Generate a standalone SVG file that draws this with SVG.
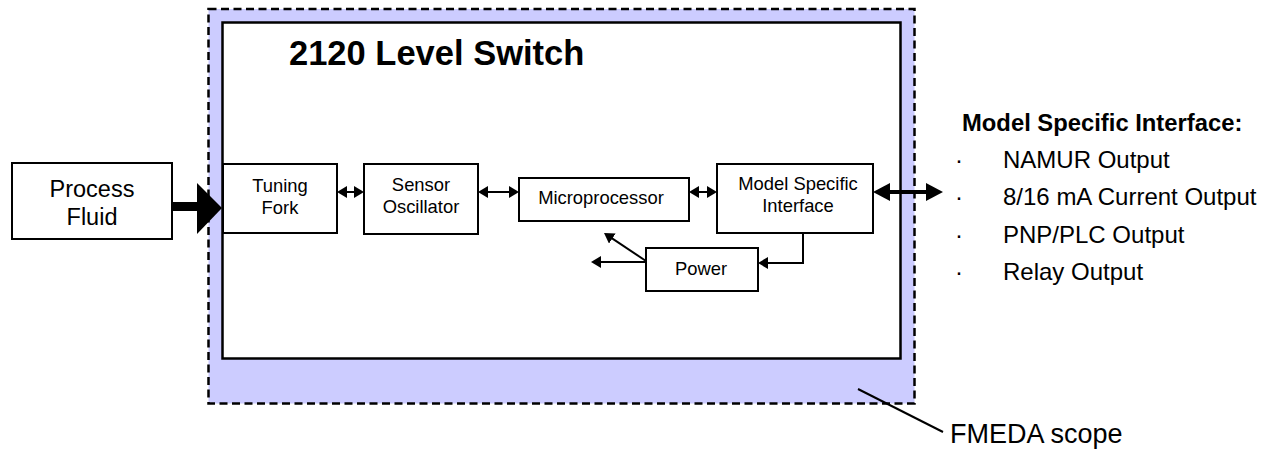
<svg xmlns="http://www.w3.org/2000/svg" width="1270" height="451" viewBox="0 0 1270 451">
<style>
text{font-family:"Liberation Sans",Arial,sans-serif;fill:#000}
.box{fill:#fff;stroke:#000;stroke-width:2}
.lbl{font-size:18.4px;text-anchor:middle}
.big{font-size:23.5px;text-anchor:middle}
.conn{fill:none;stroke:#000;stroke-width:2}
.item{font-size:24px}
</style>
<defs>
<marker id="ah" markerUnits="userSpaceOnUse" markerWidth="10" markerHeight="12" refX="7" refY="6" orient="auto-start-reverse">
<path d="M0,0 L10,6 L0,12 z" fill="#000"/>
</marker>
</defs>
<g id="fmeda-scope">
<rect x="208.5" y="9" width="706" height="394.5" fill="#ccccff" stroke="#000" stroke-width="2.5" stroke-dasharray="8,4.5"/>
</g>
<g id="level-switch">
<rect x="222.5" y="22.5" width="678" height="336" fill="#fff" stroke="#000" stroke-width="2.5"/>
<text x="289" y="65" font-size="34.5" font-weight="bold">2120 Level Switch</text>
</g>
<g id="process-fluid">
<rect class="box" x="12" y="163" width="160" height="76"/>
<text class="big" x="92" y="197">Process</text>
<text class="big" x="92" y="225">Fluid</text>
</g>
<g id="tuning-fork">
<rect class="box" x="223" y="164" width="114" height="69"/>
<text class="lbl" x="280" y="192">Tuning</text>
<text class="lbl" x="280" y="214">Fork</text>
</g>
<g id="sensor-oscillator">
<rect class="box" x="364" y="164" width="114" height="70"/>
<text class="lbl" x="421" y="191">Sensor</text>
<text class="lbl" x="421" y="213">Oscillator</text>
</g>
<g id="microprocessor">
<rect class="box" x="519" y="178" width="170" height="43"/>
<text class="lbl" x="601" y="204">Microprocessor</text>
</g>
<g id="model-specific-interface">
<rect class="box" x="717" y="164" width="156" height="69"/>
<text class="lbl" x="798" y="190">Model Specific</text>
<text class="lbl" x="798" y="212">Interface</text>
</g>
<g id="power">
<rect class="box" x="646" y="248" width="112" height="43"/>
<text class="lbl" x="701" y="275">Power</text>
</g>
<g id="connectors">
<rect x="171" y="202" width="28" height="9" fill="#000"/>
<rect x="198" y="203.5" width="3" height="6" fill="#fff"/>
<polygon points="197,183 222,208 197,234" fill="#000"/>
<line class="conn" x1="340" y1="192" x2="361" y2="192" marker-start="url(#ah)" marker-end="url(#ah)"/>
<line class="conn" x1="481" y1="192" x2="516" y2="192" marker-start="url(#ah)" marker-end="url(#ah)"/>
<line class="conn" x1="692" y1="192" x2="714" y2="192" marker-start="url(#ah)" marker-end="url(#ah)"/>
<line class="conn" x1="646" y1="262" x2="594" y2="262" marker-end="url(#ah)"/>
<line class="conn" x1="646" y1="261" x2="606.5" y2="234.7" marker-end="url(#ah)"/>
<path class="conn" d="M803,233 V263 H761" marker-end="url(#ah)"/>
<rect x="888" y="190" width="40" height="4" fill="#000"/>
<polygon points="873,192 890,183 890,201" fill="#000"/>
<polygon points="943,192 926,183 926,201" fill="#000"/>
<line class="conn" x1="858" y1="389" x2="943" y2="432"/>
</g>
<g id="interface-list">
<text x="962" y="131" font-size="23.8" font-weight="bold">Model Specific Interface:</text>
<text class="item" x="955" y="168">·</text>
<text class="item" x="1003" y="168">NAMUR Output</text>
<text class="item" x="955" y="205">·</text>
<text class="item" x="1003" y="205">8/16 mA Current Output</text>
<text class="item" x="955" y="242.5">·</text>
<text class="item" x="1003" y="242.5">PNP/PLC Output</text>
<text class="item" x="955" y="279.5">·</text>
<text class="item" x="1003" y="279.5">Relay Output</text>
</g>
<text x="950" y="443" font-size="27">FMEDA scope</text>
</svg>
